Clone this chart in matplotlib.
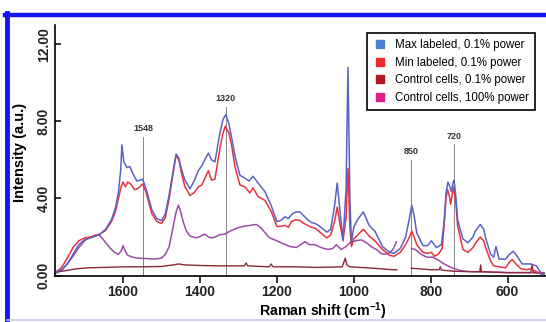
import numpy as np
import matplotlib
matplotlib.use("Agg")
import matplotlib.pyplot as plt
from matplotlib.lines import Line2D

plt.rcParams['font.family'] = ['Liberation Sans', 'DejaVu Sans']
plt.rcParams['mathtext.fontset'] = 'custom'
plt.rcParams['mathtext.rm'] = 'Liberation Sans:bold'
plt.rcParams['mathtext.bf'] = 'Liberation Sans:bold'

# 1. spectra (Raman shift in cm-1, intensity in a.u.)
max_shift = [1777, 1760, 1745, 1730, 1715, 1700, 1685, 1670, 1660, 1645, 1630, 1620, 1612, 1606, 1603,
             1598, 1590, 1582, 1575, 1564, 1556, 1549, 1540, 1525, 1512, 1500, 1490, 1480, 1469, 1462,
             1455, 1448, 1439, 1426, 1415, 1404, 1395, 1385, 1378, 1370, 1361, 1348, 1340, 1333, 1325,
             1318, 1309, 1296, 1283, 1272, 1262, 1249, 1231, 1214, 1200, 1190, 1179, 1170, 1160, 1150,
             1140, 1130, 1120, 1110, 1100, 1085, 1070, 1060, 1050, 1043, 1036, 1028, 1020, 1015, 1010,
             1006, 1000, 990, 975, 960, 945, 925, 907, 895, 879, 865, 855, 849, 843, 836,
             820, 808, 798, 785, 772, 765, 760, 755, 750, 746, 742, 739, 734, 730, 716,
             703, 690, 684, 671, 662, 657, 644, 636, 630, 622, 605, 595, 585, 575, 562,
             540, 525, 512, 505]
max_int = [0.15, 0.3, 0.6, 1.1, 1.6, 1.85, 1.95, 2.05, 2.15, 2.4, 2.9, 3.5, 4.3, 5.5, 6.78,
           5.9, 5.6, 5.65, 5.3, 4.9, 4.95, 5.0, 4.5, 3.4, 2.95, 2.85, 3.2, 4.2, 5.5, 6.3,
           6.1, 5.5, 4.95, 4.5, 4.9, 5.45, 5.7, 6.1, 6.35, 6.0, 5.9, 7.4, 8.1, 8.35, 7.9,
           7.2, 6.2, 5.2, 5.05, 4.9, 5.15, 4.8, 4.35, 3.6, 2.8, 2.85, 3.05, 2.95, 3.2, 3.3,
           3.3, 3.1, 2.9, 2.75, 2.7, 2.5, 2.25, 2.4, 3.6, 4.8, 3.4, 1.85, 4.5, 10.8, 4.0,
           1.7, 2.5, 2.9, 3.3, 2.6, 2.3, 1.5, 1.2, 1.15, 1.4, 2.0, 3.0, 3.65, 3.1, 2.2,
           1.55, 1.55, 1.8, 1.45, 1.6, 2.8, 4.3, 4.85, 4.6, 4.35, 4.8, 4.95, 4.0, 2.9, 1.9,
           1.7, 2.0, 2.3, 2.65, 2.4, 1.95, 1.1, 0.95, 1.5, 0.85, 0.85, 1.1, 1.26, 1.0, 0.6,
           0.6, 0.5, 0.1, 0.05]

min_shift = [1777, 1760, 1745, 1730, 1715, 1700, 1685, 1670, 1660, 1645, 1630, 1620, 1612, 1605, 1600,
             1594, 1588, 1580, 1570, 1562, 1549, 1540, 1525, 1512, 1500, 1490, 1480, 1469, 1462, 1455,
             1448, 1439, 1426, 1415, 1404, 1395, 1387, 1378, 1370, 1361, 1348, 1340, 1334, 1325, 1318,
             1309, 1296, 1283, 1270, 1262, 1249, 1231, 1214, 1200, 1190, 1179, 1170, 1162, 1150, 1140,
             1130, 1120, 1110, 1100, 1085, 1070, 1060, 1050, 1043, 1036, 1028, 1020, 1015, 1010, 1006,
             1000, 990, 975, 960, 945, 925, 907, 895, 879, 865, 855, 849, 843, 836, 820,
             808, 798, 790, 780, 770, 765, 760, 756, 752, 748, 743, 740, 734, 730, 716,
             703, 690, 684, 671, 662, 657, 644, 636, 622, 605, 595, 588, 578, 565, 550,
             540, 525, 510]
min_int = [0.15, 0.4, 0.9, 1.45, 1.8, 1.95, 2.0, 2.1, 2.15, 2.35, 2.8, 3.3, 4.0, 4.6, 4.85,
           4.6, 4.85, 4.75, 4.45, 4.5, 4.75, 4.3, 3.2, 2.8, 2.7, 3.0, 4.0, 5.4, 6.25, 6.0,
           5.3, 4.6, 4.15, 4.3, 4.6, 4.7, 5.05, 5.45, 4.95, 5.0, 6.6, 7.4, 7.75, 7.4, 6.8,
           5.65, 4.7, 4.6, 4.28, 4.55, 4.1, 3.9, 3.3, 2.55, 2.55, 2.6, 2.5, 2.8, 2.9, 2.85,
           2.7, 2.6, 2.5, 2.45, 2.2, 1.95, 2.1, 2.8, 3.55, 2.7, 1.8, 3.0, 5.55, 2.5, 1.5,
           1.9, 2.1, 2.4, 2.05, 1.8, 1.35, 1.05, 1.0, 1.2, 1.6, 2.0, 2.3, 2.0, 1.6, 1.2,
           1.15, 1.2, 1.0, 1.1, 1.4, 2.6, 4.0, 4.45, 4.2, 3.7, 4.3, 4.6, 3.7, 2.6, 1.35,
           1.2, 1.45, 1.65, 2.0, 1.8, 1.45, 0.75, 0.5, 0.45, 0.4, 0.7, 0.83, 0.6, 0.35, 0.3,
           0.35, 0.2, 0.05]

# control cells at 0.1% power (NaN = break in the trace)
ctrl_low_shift = [1777, 1750, 1720, 1690, 1650, 1600, 1550, 1500, 1470, 1455, 1440, 1400, 1350, 1300, 1285,
                  1280, 1276, 1220, 1215, 1210, 1150, 1100, 1030, 1022, 1018, 1010, 950, 900, 888, 870,
                  850, 800, 778, 775, 772, 740, 700, 672, 670, 668, 600, 540, 536, 533, 505]
ctrl_low_int = [0.18, 0.25, 0.35, 0.4, 0.42, 0.45, 0.45, 0.47, 0.55, 0.6, 0.55, 0.52, 0.5, 0.5, 0.5,
                0.65, 0.5, 0.45, 0.6, 0.45, 0.45, 0.42, 0.45, 0.9, 0.55, 0.45, 0.38, 0.3, 0.3, np.nan,
                0.38, 0.3, 0.3, 0.45, 0.28, 0.22, 0.2, 0.2, 0.55, 0.2, 0.15, 0.15, 0.55, 0.15, 0.1]

# control cells at 100% power
ctrl_high_shift = [1777, 1760, 1745, 1730, 1715, 1700, 1690, 1680, 1670, 1662, 1655, 1645, 1635, 1622, 1612,
                   1604, 1600, 1595, 1588, 1575, 1560, 1540, 1520, 1500, 1490, 1480, 1470, 1462, 1456, 1450,
                   1443, 1435, 1426, 1409, 1397, 1387, 1378, 1370, 1360, 1348, 1335, 1322, 1305, 1287, 1270,
                   1253, 1240, 1228, 1218, 1200, 1184, 1165, 1149, 1138, 1127, 1115, 1101, 1085, 1067, 1055,
                   1045, 1033, 1020, 1010, 995, 980, 967, 955, 941, 930, 920, 910, 898, 889, 870,
                   850, 840, 825, 810, 794, 780, 765, 750, 738, 720, 700, 650, 600, 550, 505]
ctrl_high_int = [0.1, 0.25, 0.6, 1.0, 1.45, 1.8, 1.95, 2.0, 2.1, 2.1, 1.95, 1.7, 1.45, 1.2, 1.1,
                 1.3, 1.55, 1.3, 1.05, 0.95, 0.9, 0.88, 0.85, 0.9, 1.1, 1.5, 2.5, 3.3, 3.65, 3.3,
                 2.75, 2.3, 2.05, 1.95, 2.05, 2.15, 2.0, 1.95, 2.0, 2.12, 2.15, 2.3, 2.45, 2.55, 2.6,
                 2.65, 2.45, 2.15, 1.95, 1.8, 1.65, 1.5, 1.45, 1.6, 1.75, 1.6, 1.6, 1.45, 1.35, 1.4,
                 1.6, 1.35, 1.5, 1.7, 1.8, 1.85, 1.7, 1.5, 1.35, 1.15, 1.1, 1.15, 1.35, 1.75, np.nan,
                 1.4, 1.35, 1.1, 0.95, 0.95, 0.8, 0.6, 0.45, 0.35, 0.25, 0.2, 0.18, 0.15, 0.15, 0.15]

series_labels = ['Max labeled, 0.1% power', 'Min labeled, 0.1% power',
                 'Control cells, 0.1% power', 'Control cells, 100% power']
legend_colors = ['#4d7fcf', '#ee2a2a', '#b3161e', '#e0208c']
line_colors = ['#5a62c4', '#e8323e', '#8c2838', '#9a4ca6']

# marked bands: where the guide line sits, what it is labelled, how high it goes
peak_pos = [1548, 1333, 850, 738]
peak_labels = ['1548', '1320', '850', '720']
peak_top = [7.2, 8.75, 6.0, 6.8]

x_ticks = [1600, 1400, 1200, 1000, 800, 600]
y_ticks = [0, 4, 8, 12]

# 2. figure
fig = plt.figure(figsize=(5.46, 3.22), dpi=100)
ax = fig.add_axes([0.1007, 0.1444, 0.8993, 0.778])

ax.plot(ctrl_high_shift, ctrl_high_int, color=line_colors[3], lw=1.1)
ax.plot(ctrl_low_shift, ctrl_low_int, color=line_colors[2], lw=1.0)
ax.plot(min_shift, min_int, color=line_colors[1], lw=1.1)
ax.plot(max_shift, max_int, color=line_colors[0], lw=1.1)

for pos, lab, top in zip(peak_pos, peak_labels, peak_top):
    ax.plot([pos, pos], [0, top], color='#707070', lw=0.6, zorder=1)
    ax.text(pos, top + 0.2, lab, ha='center', va='bottom', fontsize=6.5, fontweight='bold', color='#333333')

ax.set_xlim(1777, 500)
ax.set_ylim(0, 13)
ax.set_xticks(x_ticks)
ax.set_yticks(y_ticks)
ax.set_yticklabels(['%.2f' % v for v in y_ticks], rotation=90, va='center')
ax.tick_params(axis='x', direction='out', length=5, width=1.1, pad=2, labelsize=10)
ax.tick_params(axis='y', direction='in', length=4, width=1.1, pad=3, labelsize=10)
for t in ax.get_xticklabels() + ax.get_yticklabels():
    t.set_fontweight('bold')
    t.set_color('#222222')

for s in ['top', 'right']:
    ax.spines[s].set_visible(False)
for s in ['left', 'bottom']:
    ax.spines[s].set_linewidth(1.2)

ax.set_xlabel(r'Raman shift (cm$^{-1}$)', fontsize=10.2, fontweight='bold')
ax.xaxis.set_label_coords(0.546, -0.098)
ax.set_ylabel('Intensity (a.u.)', fontsize=10.5, fontweight='bold')
ax.yaxis.set_label_coords(-0.056, 0.49)

handles = [Line2D([], [], marker='s', ls='none', color=c, markersize=6) for c in legend_colors]
leg = ax.legend(handles, series_labels, loc='upper right', bbox_to_anchor=(0.978, 0.968),
                borderaxespad=0, fontsize=8.3, fancybox=False, framealpha=1,
                edgecolor='black', handlelength=1.2, handletextpad=0.7, labelspacing=0.48,
                borderpad=0.55)
leg.get_frame().set_linewidth(1.2)

# 3. blue frame around the panel
fig.add_artist(Line2D([0.0137, 0.0137], [0.0, 0.9606], transform=fig.transFigure, color='#1414f5', lw=3.5))
fig.add_artist(Line2D([0.0092, 1.0], [0.9543, 0.9543], transform=fig.transFigure, color='#1414f5', lw=3.2))
fig.add_artist(Line2D([0.0137, 1.0], [0.0047, 0.0047], transform=fig.transFigure, color='#c8c8f2', lw=1.2))

fig.savefig('out.png', dpi=100)
